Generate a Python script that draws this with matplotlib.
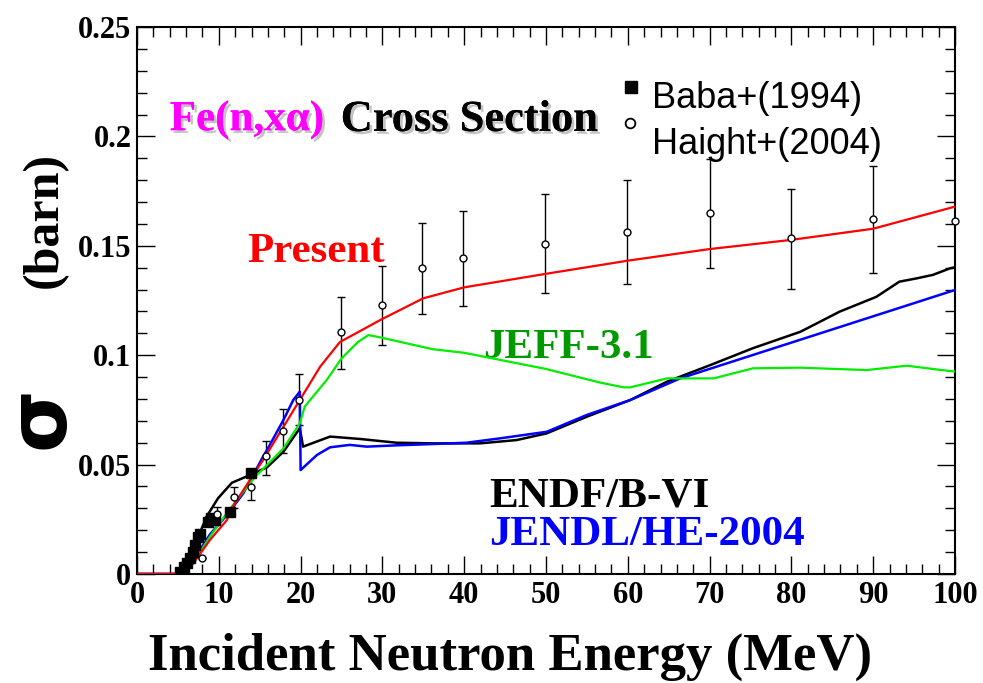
import numpy as np
import matplotlib
matplotlib.use("Agg")
import matplotlib.pyplot as plt
import matplotlib.patheffects as pe
from matplotlib.ticker import MultipleLocator

# --- data ---
present_e = [0, 5.0, 5.9, 6.9, 8.9, 11.0, 11.4, 13.8, 15.4, 19.9, 22.4, 24.8, 29.9, 35.0, 40.0, 50.0, 60.0, 70.0, 80.0, 90.0, 100.0]
present_xs = [0, 0, 0.001, 0.0049, 0.0155, 0.0247, 0.029, 0.043, 0.052, 0.0795, 0.0948, 0.106, 0.1164, 0.126, 0.131, 0.1372, 0.1432, 0.1485, 0.1527, 0.1578, 0.1679]

jeff_e = [0, 5.2, 6.0, 7.0, 8.9, 11.0, 13.8, 14.6, 17.9, 19.9, 20.5, 23.2, 25.0, 27.0, 28.3, 29.9, 36.2, 40.0, 50.0, 56.6, 59.5, 60.3, 64.8, 70.5, 75.3, 81.1, 89.2, 94.1, 97.3, 100.0]
jeff_xs = [0, 0, 0.0015, 0.006, 0.017, 0.028, 0.0415, 0.045, 0.0574, 0.0689, 0.0765, 0.0887, 0.0985, 0.106, 0.1092, 0.108, 0.1027, 0.1011, 0.0937, 0.0875, 0.0853, 0.0853, 0.0894, 0.0894, 0.094, 0.0943, 0.0932, 0.0952, 0.0937, 0.0925]

endf_e = [0, 5.0, 5.8, 6.8, 7.6, 8.5, 9.9, 11.6, 13.8, 15.9, 17.9, 19.9, 20.3, 23.6, 27.3, 31.7, 36.2, 41.9, 46.4, 50.1, 55.0, 60.3, 64.8, 70.1, 75.3, 81.1, 85.9, 90.4, 93.2, 95.3, 97.3, 99.4, 100.0]
endf_xs = [0, 0, 0.003, 0.01, 0.018, 0.0262, 0.0346, 0.0417, 0.0452, 0.0488, 0.0559, 0.0666, 0.0582, 0.0628, 0.0617, 0.06, 0.0597, 0.0597, 0.0612, 0.0643, 0.0719, 0.0795, 0.0879, 0.0955, 0.1032, 0.1107, 0.1199, 0.1267, 0.1336, 0.1351, 0.1367, 0.1397, 0.1402]

jendl_e = [0, 5.2, 6.0, 7.0, 8.9, 11.0, 13.0, 15.4, 15.9, 17.9, 19.1, 19.9, 20.0, 22.0, 23.6, 26.0, 28.1, 31.7, 36.2, 40.3, 44.4, 50.1, 55.0, 60.3, 66.4, 100.0]
jendl_xs = [0, 0, 0.002, 0.007, 0.018, 0.027, 0.0369, 0.0536, 0.0567, 0.0704, 0.0795, 0.0833, 0.0475, 0.0544, 0.0579, 0.059, 0.0582, 0.0588, 0.0594, 0.06, 0.062, 0.065, 0.0727, 0.0795, 0.0894, 0.1298]

baba_e = [5.26, 5.7, 6.1, 6.5, 6.8, 7.1, 7.4, 7.7, 8.7, 9.1, 9.5, 11.4, 13.9]
baba_xs = [0.001, 0.003, 0.0049, 0.0072, 0.0102, 0.0133, 0.0168, 0.0183, 0.0239, 0.0255, 0.0247, 0.0283, 0.046]

haight_e = [7.9, 9.8, 11.8, 13.9, 15.8, 17.9, 19.8, 24.9, 29.9, 34.9, 39.9, 49.9, 59.9, 70.0, 80.0, 90.0]
haight_xs = [0.0072, 0.0273, 0.0353, 0.0399, 0.054, 0.0655, 0.0795, 0.1105, 0.123, 0.1397, 0.1446, 0.151, 0.1563, 0.1649, 0.1534, 0.1622]
haight_lo = [0.0072, 0.0247, 0.030, 0.0338, 0.0452, 0.0554, 0.068, 0.0935, 0.1047, 0.1188, 0.1225, 0.1283, 0.1327, 0.140, 0.1301, 0.1377]
haight_hi = [0.0072, 0.0308, 0.0399, 0.0468, 0.0608, 0.0753, 0.0914, 0.1265, 0.1408, 0.1606, 0.166, 0.1735, 0.180, 0.1895, 0.1758, 0.1865]
haight_edge_e = [100.0]
haight_edge_xs = [0.1615]

serif = 'Liberation Serif'

fig = plt.figure(figsize=(9.83, 6.83), dpi=100)
ax = fig.add_axes([0.1394, 0.1596, 0.8321, 0.8009])

yerr = [np.array(haight_xs) - np.array(haight_lo), np.array(haight_hi) - np.array(haight_xs)]
ax.errorbar(haight_e, haight_xs, yerr=yerr, fmt='none', ecolor='black', elinewidth=1.0, capsize=3, capthick=1.0, zorder=2)

ax.plot(endf_e, endf_xs, color='black', lw=1.8, zorder=3)
ax.plot(jendl_e, jendl_xs, color='#0000ff', lw=1.8, zorder=3)
ax.plot(jeff_e, jeff_xs, color='#00ee00', lw=1.6, zorder=4)
ax.plot(present_e, present_xs, color='#ff0000', lw=1.6, zorder=5)

ax.plot(baba_e, baba_xs, 's', color='black', ms=7, zorder=6)
ax.plot(haight_e, haight_xs, 'o', mfc='white', mec='black', mew=1.0, ms=5, zorder=6)
ax.plot(haight_edge_e, haight_edge_xs, 'o', mfc='white', mec='black', mew=1.0, ms=5, zorder=6, clip_on=False)

ax.set_xlim(0, 100)
ax.set_ylim(0, 0.25)
ax.xaxis.set_major_locator(MultipleLocator(10))
ax.xaxis.set_minor_locator(MultipleLocator(2))
ax.yaxis.set_major_locator(MultipleLocator(0.05))
ax.yaxis.set_minor_locator(MultipleLocator(0.01))
ax.yaxis.set_major_formatter(plt.FuncFormatter(lambda v, p: ('%g' % round(v, 3))))
ax.tick_params(which='both', direction='in', top=True, right=True, width=1.0)
ax.tick_params(which='major', length=13)
ax.tick_params(which='minor', length=7)
ax.tick_params(axis='x', which='major', labelsize=22, pad=5)
ax.tick_params(axis='y', which='major', labelsize=22, pad=4)
for lab in ax.get_xticklabels() + ax.get_yticklabels():
    lab.set_family(serif)
    lab.set_fontweight('bold')
for s in ax.spines.values():
    s.set_linewidth(1.5)

fig.text(0.519, 0.038, 'Incident Neutron Energy (MeV)', fontsize=38, fontweight='bold', family=serif, ha='center', va='center')

# y title, centred on the axis: "σ (barn)"
fig.text(0.042, 0.388, 'σ', fontsize=58, family='DejaVu Sans', fontweight='bold', rotation=90, ha='center', va='center')
fig.text(0.046, 0.678, '(barn)', fontsize=36, family=serif, fontweight='bold', rotation=90, ha='center', va='center')

shadow = [pe.withSimplePatchShadow(offset=(2, -2), shadow_rgbFace='#aaaaaa', alpha=0.7), pe.Normal()]
ax.text(4.0, 0.2075, 'Fe(n,xα)', fontsize=31, family=serif, fontweight='bold', color='#ff00ff', va='center', path_effects=shadow)
ax.text(24.9, 0.2075, 'Cross Section', fontsize=32, family=serif, fontweight='bold', color='black', va='center', path_effects=shadow)

ax.plot([60.4], [0.2225], 's', color='black', ms=9, clip_on=False)
ax.plot([60.3], [0.206], 'o', mfc='white', mec='black', mew=1.3, ms=7, clip_on=False)
ax.text(63.0, 0.2175, 'Baba+(1994)', fontsize=26, family='Liberation Sans', va='center')
ax.text(63.0, 0.1965, 'Haight+(2004)', fontsize=26, family='Liberation Sans', va='center')

ax.text(13.5, 0.147, 'Present', fontsize=31, family=serif, fontweight='bold', color='#ff0000', va='center')
ax.text(42.3, 0.1035, 'JEFF-3.1', fontsize=31, family=serif, fontweight='bold', color='#009a00', va='center')
ax.text(43.0, 0.0355, 'ENDF/B-VI', fontsize=31, family=serif, fontweight='bold', color='black', va='center')
ax.text(43.0, 0.0180, 'JENDL/HE-2004', fontsize=31, family=serif, fontweight='bold', color='#0000ff', va='center')

fig.savefig('out.png', dpi=100)
